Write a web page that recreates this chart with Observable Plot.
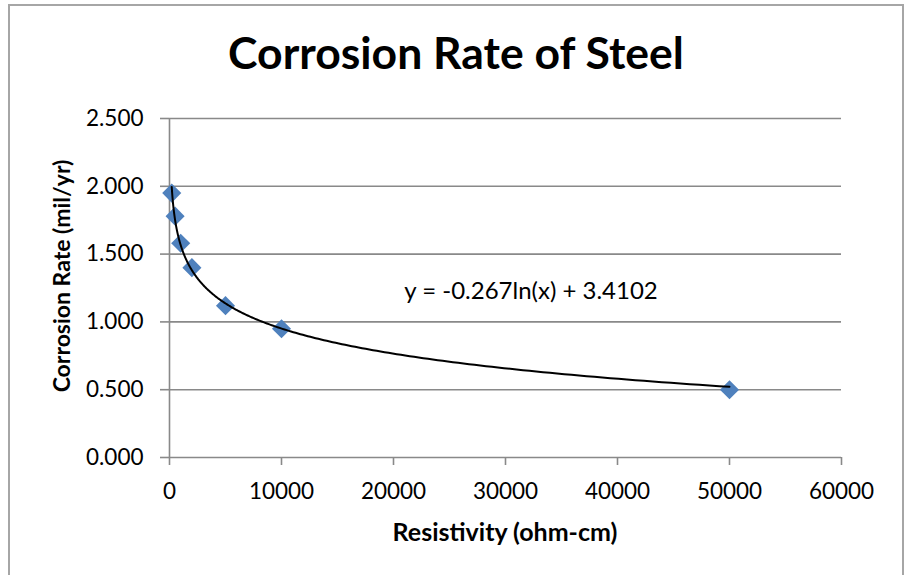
<!DOCTYPE html>
<html>
<head>
<meta charset="utf-8">
<script src="https://cdn.jsdelivr.net/npm/d3@7"></script>
<script src="https://cdn.jsdelivr.net/npm/@observablehq/plot@0.6"></script>
<style>
  html, body { margin: 0; padding: 0; background: #fff; }
  #wrap { position: relative; width: 912px; height: 575px; overflow: hidden; font-family: Lato, "Open Sans", sans-serif; color: #000; }
  #frame { position: absolute; left: 8px; top: 4px; width: 896px; height: 620px; border: 2px solid #a6a6a6; box-sizing: border-box; }
  .lbl { position: absolute; white-space: nowrap; line-height: 1; }
  #title { font-weight: 700; font-size: 44.5px; left: 0; width: 912px; text-align: center; top: 30px; }
  #xtitle { font-weight: 700; font-size: 25px; left: 169px; width: 672px; text-align: center; top: 519px; }
  #ytitle { font-weight: 700; font-size: 23px; left: 61px; top: 276px; transform: translate(-50%, -50%) rotate(-90deg); }
  #eq { font-size: 24px; left: 531px; top: 290px; transform: translate(-50%, -50%); }
  #chart { position: absolute; left: 0; top: 0; }
</style>
</head>
<body>
<div id="wrap">
  <div id="frame"></div>
  <div id="chart"></div>
  <div class="lbl" id="title">Corrosion Rate of Steel</div>
  <div class="lbl" id="ytitle">Corrosion Rate (mil/yr)</div>
  <div class="lbl" id="xtitle">Resistivity (ohm-cm)</div>
  <div class="lbl" id="eq">y = -0.267ln(x) + 3.4102</div>
</div>
<script>
// Data
const resistivity = [200, 500, 1000, 2000, 5000, 10000, 50000];
const corrosionRate = [1.95, 1.78, 1.58, 1.40, 1.12, 0.95, 0.50];
const xTicks = [0, 10000, 20000, 30000, 40000, 50000, 60000];
const yTicks = [0, 0.5, 1.0, 1.5, 2.0, 2.5];
// Logarithmic trendline coefficients as shown on the chart
const trendSlope = -0.267;
const trendIntercept = 3.4102;

const points = resistivity.map((x, i) => ({x, y: corrosionRate[i]}));
const xMin = d3.min(resistivity), xMax = d3.max(resistivity);
const trend = d3.range(0, 301).map(i => {
  const x = Math.exp(Math.log(xMin) + (Math.log(xMax) - Math.log(xMin)) * i / 300);
  return {x, y: trendSlope * Math.log(x) + trendIntercept};
});

const gray = "#898989";
const chart = Plot.plot({
  width: 912,
  height: 575,
  marginLeft: 169,
  marginRight: 71,
  marginTop: 118,
  marginBottom: 118,
  style: {fontFamily: "Lato, 'Open Sans', sans-serif", fontSize: "22.5px", color: "#000", background: "transparent"},
  x: {domain: [0, 60000]},
  y: {domain: [0, 2.5]},
  marks: [
    Plot.gridY(yTicks, {stroke: gray, strokeOpacity: 1, strokeWidth: 1.6}),
    Plot.ruleX([0], {stroke: gray, strokeWidth: 1.6}),
    Plot.axisY(yTicks, {tickSize: 9, tickPadding: 17, stroke: gray, strokeWidth: 1.6, tickFormat: d3.format(".3f"), label: null}),
    Plot.axisX(xTicks, {tickSize: 8, tickPadding: 18, stroke: gray, strokeWidth: 1.6, tickFormat: d => String(d), label: null}),
    Plot.dot(points, {x: "x", y: "y", symbol: "diamond2", r: 8.6, fill: "#4f81bd", stroke: "none"}),
    Plot.line(trend, {x: "x", y: "y", stroke: "#000", strokeWidth: 2})
  ]
});
document.getElementById("chart").appendChild(chart);
</script>
</body>
</html>
